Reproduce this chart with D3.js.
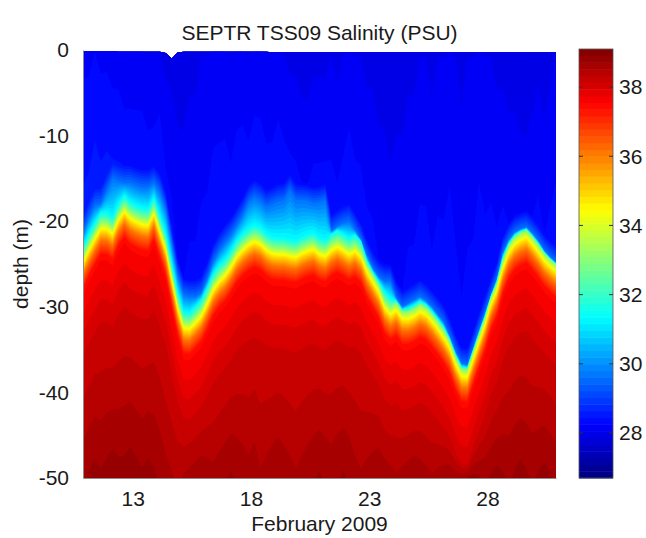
<!DOCTYPE html>
<html>
<head>
<meta charset="utf-8">
<script src="https://cdnjs.cloudflare.com/ajax/libs/d3/7.8.5/d3.min.js"></script>
<style>
body { margin: 0; background: #fff; }
svg text { font-family: "Liberation Sans", Arial, sans-serif; fill: #1a1a1a; }
</style>
</head>
<body>
<div id="chart"></div>
<script>
// SEPTR TSS09 salinity section, Feb 2009

/////// DATA ///////////////////////////////////////

// sample times (day of February 2009)
let sampleDay = [
	10.90, 11.15, 11.40, 11.65, 11.90, 12.15, 12.40, 12.65, 12.90, 13.15,
	13.40, 13.65, 13.90, 14.15, 14.40, 14.65, 14.90, 15.15, 15.40, 15.65,
	15.90, 16.15, 16.40, 16.65, 16.90, 17.15, 17.40, 17.65, 17.90, 18.15,
	18.40, 18.65, 18.90, 19.15, 19.40, 19.65, 19.90, 20.15, 20.40, 20.65,
	20.90, 21.15, 21.40, 21.65, 21.90, 22.15, 22.40, 22.65, 22.90, 23.15,
	23.40, 23.65, 23.90, 24.15, 24.40, 24.65, 24.90, 25.15, 25.40, 25.65,
	25.90, 26.15, 26.40, 26.65, 26.90, 27.15, 27.40, 27.65, 27.90, 28.15,
	28.40, 28.65, 28.90, 29.15, 29.40, 29.65, 29.90, 30.15, 30.40, 30.65,
	30.90
];

// depth (m) of the halocline core (~34.6 PSU, yellow)
let haloDepth = [
	25.0, 23.5, 22.2, 21.0, 21.0, 21.6, 20.0, 19.0, 19.8, 20.2,
	20.5, 20.6, 19.3, 21.4, 23.5, 27.0, 30.3, 32.6, 32.7, 32.0,
	31.2, 29.8, 28.2, 27.2, 26.5, 25.5, 24.3, 23.5, 22.9, 22.5,
	22.8, 23.5, 23.9, 24.0, 24.0, 24.2, 24.3, 23.9, 23.6, 23.4,
	24.0, 24.2, 23.5, 23.1, 23.5, 24.0, 23.6, 24.3, 26.0, 27.2,
	28.4, 30.2, 31.0, 30.5, 31.5, 31.5, 31.2, 30.7, 31.0, 31.8,
	32.7, 33.7, 34.9, 36.8, 38.2, 38.3, 36.2, 34.2, 32.2, 29.8,
	28.2, 25.6, 23.8, 22.8, 22.3, 22.0, 22.8, 23.7, 24.7, 25.4,
	26.0
];

// depth (m) of the top of the mixing fringe (~29.6 PSU, light blue)
let fringeDepth = [
	21.4, 19.5, 18.2, 18.0, 16.5, 15.0, 15.3, 15.5, 15.5, 15.8,
	16.0, 16.0, 15.5, 16.5, 18.5, 22.5, 26.3, 28.5, 28.8, 28.8,
	28.4, 26.8, 24.8, 23.5, 22.5, 21.6, 20.5, 19.3, 17.8, 17.2,
	17.6, 18.3, 18.0, 17.7, 17.5, 16.4, 17.5, 17.5, 17.6, 17.9,
	17.8, 17.5, 21.2, 20.6, 20.2, 20.0, 21.0, 22.2, 24.0, 25.5,
	26.5, 27.0, 27.0, 29.0, 30.0, 29.6, 29.2, 28.8, 29.3, 30.0,
	30.9, 31.8, 33.4, 35.2, 36.6, 36.8, 34.8, 32.7, 30.7, 28.6,
	26.7, 23.7, 22.2, 21.3, 20.9, 20.7, 21.4, 22.3, 23.4, 24.2,
	24.8
];

// top of the data (m), tide level
let surfaceDepth = [
	0.15, 0.15, 0.15, 0.15, 0.15, 0.15, 0.20, 0.20, 0.20, 0.20,
	0.20, 0.20, 0.20, 0.20, 0.35, 1.00, 0.30, 0.20, 0.20, 0.20,
	0.20, 0.20, 0.20, 0.20, 0.20, 0.20, 0.20, 0.20, 0.20, 0.20,
	0.20, 0.20, 0.25, 0.25, 0.25, 0.25, 0.25, 0.25, 0.25, 0.25,
	0.25, 0.25, 0.25, 0.25, 0.25, 0.25, 0.25, 0.25, 0.25, 0.25,
	0.25, 0.25, 0.25, 0.25, 0.25, 0.25, 0.25, 0.25, 0.25, 0.25,
	0.25, 0.25, 0.25, 0.25, 0.25, 0.25, 0.25, 0.25, 0.25, 0.25,
	0.25, 0.25, 0.25, 0.25, 0.25, 0.30, 0.30, 0.30, 0.30, 0.30,
	0.30
];

// near-surface salinity (PSU)
let upperSal = [
	28.20, 28.20, 28.25, 28.20, 28.20, 28.15, 28.15, 28.10, 28.10, 28.10,
	28.10, 28.05, 28.05, 28.10, 28.00, 28.00, 27.95, 27.95, 28.00, 28.00,
	28.05, 28.05, 28.10, 28.10, 28.10, 28.05, 28.10, 28.10, 28.05, 28.10,
	28.10, 28.05, 28.05, 28.10, 28.05, 28.00, 28.00, 27.95, 27.95, 28.00,
	28.00, 28.00, 28.05, 28.00, 28.05, 28.10, 28.05, 28.05, 28.00, 28.00,
	27.95, 27.95, 27.90, 27.95, 27.95, 28.00, 28.00, 28.05, 28.05, 28.00,
	28.05, 28.05, 28.10, 28.05, 28.00, 28.05, 28.05, 28.10, 28.05, 28.05,
	28.00, 28.00, 27.95, 27.95, 27.90, 27.90, 27.95, 28.00, 27.95, 28.00,
	28.05
];

// salinity at 50 m (PSU)
let deepSal = [
	38.70, 38.75, 38.80, 38.75, 38.80, 38.85, 38.80, 38.80, 38.85, 38.80,
	38.75, 38.80, 38.75, 38.70, 38.60, 38.55, 38.50, 38.55, 38.60, 38.65,
	38.70, 38.65, 38.60, 38.65, 38.70, 38.75, 38.70, 38.65, 38.60, 38.65,
	38.55, 38.60, 38.65, 38.70, 38.65, 38.60, 38.55, 38.60, 38.65, 38.70,
	38.75, 38.70, 38.65, 38.70, 38.75, 38.70, 38.60, 38.55, 38.60, 38.65,
	38.70, 38.65, 38.60, 38.55, 38.60, 38.65, 38.70, 38.65, 38.60, 38.55,
	38.60, 38.65, 38.70, 38.65, 38.70, 38.75, 38.80, 38.75, 38.70, 38.75,
	38.80, 38.75, 38.70, 38.75, 38.80, 38.75, 38.70, 38.75, 38.80, 38.75,
	38.70
];

let dayTicks = [13, 18, 23, 28];
let depthTicks = [0, -10, -20, -30, -40, -50];
let salTicks = [28, 30, 32, 34, 36, 38];
let colorLimits = [26.7, 39.1];
let nColors = 64;
let maxDepth = 50;

/////// SETUP ///////////////////////////////////////

let svg = d3.select('#chart').append('svg')
		.attr('width', 646)
		.attr('height', 538);

let plot = { left: 83, right: 556, top: 50, bottom: 478 };
let fontSize = '21px';

let x = d3.scaleLinear().domain([10.9, 30.9]).range([plot.left, plot.right]);
let y = d3.scaleLinear().domain([0, -50]).range([plot.top, plot.bottom]);

// matlab jet colormap
let jet = function(t) {
	let c = v => Math.max(0, Math.min(1, v)) * 255;
	return d3.rgb(c(1.5 - Math.abs(4 * t - 3)), c(1.5 - Math.abs(4 * t - 2)), c(1.5 - Math.abs(4 * t - 1))).formatHex();
};
let jetColors = d3.range(nColors).map(k => jet((k + 0.5) / nColors));
let color = d3.scaleQuantize().domain(colorLimits).range(jetColors);
let step = (colorLimits[1] - colorLimits[0]) / nColors;

svg.append('clipPath')
	.attr('id', 'plot-clip')
	.append('rect')
		.attr('x', plot.left)
		.attr('y', plot.top)
		.attr('width', plot.right - plot.left)
		.attr('height', plot.bottom - plot.top);

/////// SALINITY FIELD ///////////////////////////////////////

// vertical profile knots for one cast: [depth, salinity]
let profile = function(i) {
	let h = haloDepth[i], f = fringeDepth[i], s0 = upperSal[i];
	let knots = [
		[f - 2, s0 + 0.3],
		[f, 29.6],
		[h - 2, 31.4],
		[h - 0.9, 33.0],
		[h, 34.6],
		[h + 1.3, 36.2],
		[h + 3, 37.5],
		[h + 10, 38.1]
	];
	let out = [[surfaceDepth[i], s0]];
	knots.forEach(k => {
		let last = out[out.length - 1];
		if (k[0] > last[0] && k[0] < maxDepth) out.push([k[0], Math.max(k[1], last[1])]);
	});
	let last = out[out.length - 1];
	out.push([maxDepth, Math.max(deepSal[i], last[1])]);
	return out;
};

// depth where a cast first reaches salinity s
let levelDepth = function(knots, s) {
	if (s <= knots[0][1]) return knots[0][0];
	for (let j = 1; j < knots.length; j++) {
		let a = knots[j - 1], b = knots[j];
		if (s <= b[1]) return a[0] + (b[0] - a[0]) * (s - a[1]) / (b[1] - a[1]);
	}
	return maxDepth + 1;
};

let casts = sampleDay.map((d, i) => profile(i));

let levels = jetColors.map((c, k) => {
	let s = colorLimits[0] + k * step;
	return { s: s, fill: color(s + step / 2), depth: casts.map(p => levelDepth(p, s)) };
});

let area = d3.area()
		.x((d, i) => x(sampleDay[i]))
		.y0(y(-maxDepth - 1))
		.y1(d => y(-d))
		.curve(d3.curveLinear);

svg.append('g')
	.attr('clip-path', 'url(#plot-clip)')
	.selectAll('path')
	.data(levels)
	.enter().append('path')
		.attr('d', d => area(d.depth))
		.attr('fill', d => d.fill);

/////// AXES ///////////////////////////////////////

let yAxis = svg.append('g')
		.attr('transform', `translate(${plot.left},0)`)
		.call(d3.axisLeft(y).tickValues(depthTicks).tickFormat(d => String(d)).tickSize(0).tickPadding(14));
let xAxis = svg.append('g')
		.attr('transform', `translate(0,${plot.bottom})`)
		.call(d3.axisBottom(x).tickValues(dayTicks).tickFormat(d => String(d)).tickSize(0).tickPadding(13));

[yAxis, xAxis].forEach(g => {
	g.selectAll('text').style('font-size', fontSize).attr('fill', '#1a1a1a');
	g.select('.domain').attr('stroke', '#8c8c8c').attr('stroke-width', 1);
});

svg.append('text')
	.attr('x', (plot.left + plot.right) / 2)
	.attr('y', 40)
	.attr('text-anchor', 'middle')
	.style('font-size', fontSize)
	.text('SEPTR TSS09 Salinity (PSU)');

svg.append('text')
	.attr('x', (plot.left + plot.right) / 2)
	.attr('y', 531)
	.attr('text-anchor', 'middle')
	.style('font-size', fontSize)
	.text('February 2009');

svg.append('text')
	.attr('transform', `translate(28,${(plot.top + plot.bottom) / 2}) rotate(-90)`)
	.attr('text-anchor', 'middle')
	.style('font-size', fontSize)
	.text('depth (m)');

/////// COLORBAR ///////////////////////////////////////

let cb = { x: 579, width: 34 };
let cy = d3.scaleLinear().domain(colorLimits).range([plot.bottom, plot.top - 1]);

let bar = svg.append('g');
bar.selectAll('rect')
	.data(jetColors)
	.enter().append('rect')
		.attr('x', cb.x)
		.attr('width', cb.width)
		.attr('y', (d, k) => cy(colorLimits[0] + (k + 1) * step))
		.attr('height', (d, k) => cy(colorLimits[0] + k * step) - cy(colorLimits[0] + (k + 1) * step) + 0.5)
		.attr('fill', d => d);

bar.append('rect')
	.attr('x', cb.x)
	.attr('y', cy(colorLimits[1]))
	.attr('width', cb.width)
	.attr('height', cy(colorLimits[0]) - cy(colorLimits[1]))
	.attr('fill', 'none')
	.attr('stroke', '#555')
	.attr('stroke-width', 0.8);

let cticks = bar.selectAll('.ctick')
	.data(salTicks)
	.enter().append('g')
		.attr('class', 'ctick')
		.attr('transform', d => `translate(0,${cy(d)})`);
cticks.append('line').attr('x1', cb.x).attr('x2', cb.x + 4).attr('stroke', '#333');
cticks.append('line').attr('x1', cb.x + cb.width - 4).attr('x2', cb.x + cb.width).attr('stroke', '#333');
cticks.append('text')
	.attr('x', cb.x + cb.width + 6)
	.attr('dy', '0.35em')
	.style('font-size', fontSize)
	.text(d => d);
</script>
</body>
</html>
